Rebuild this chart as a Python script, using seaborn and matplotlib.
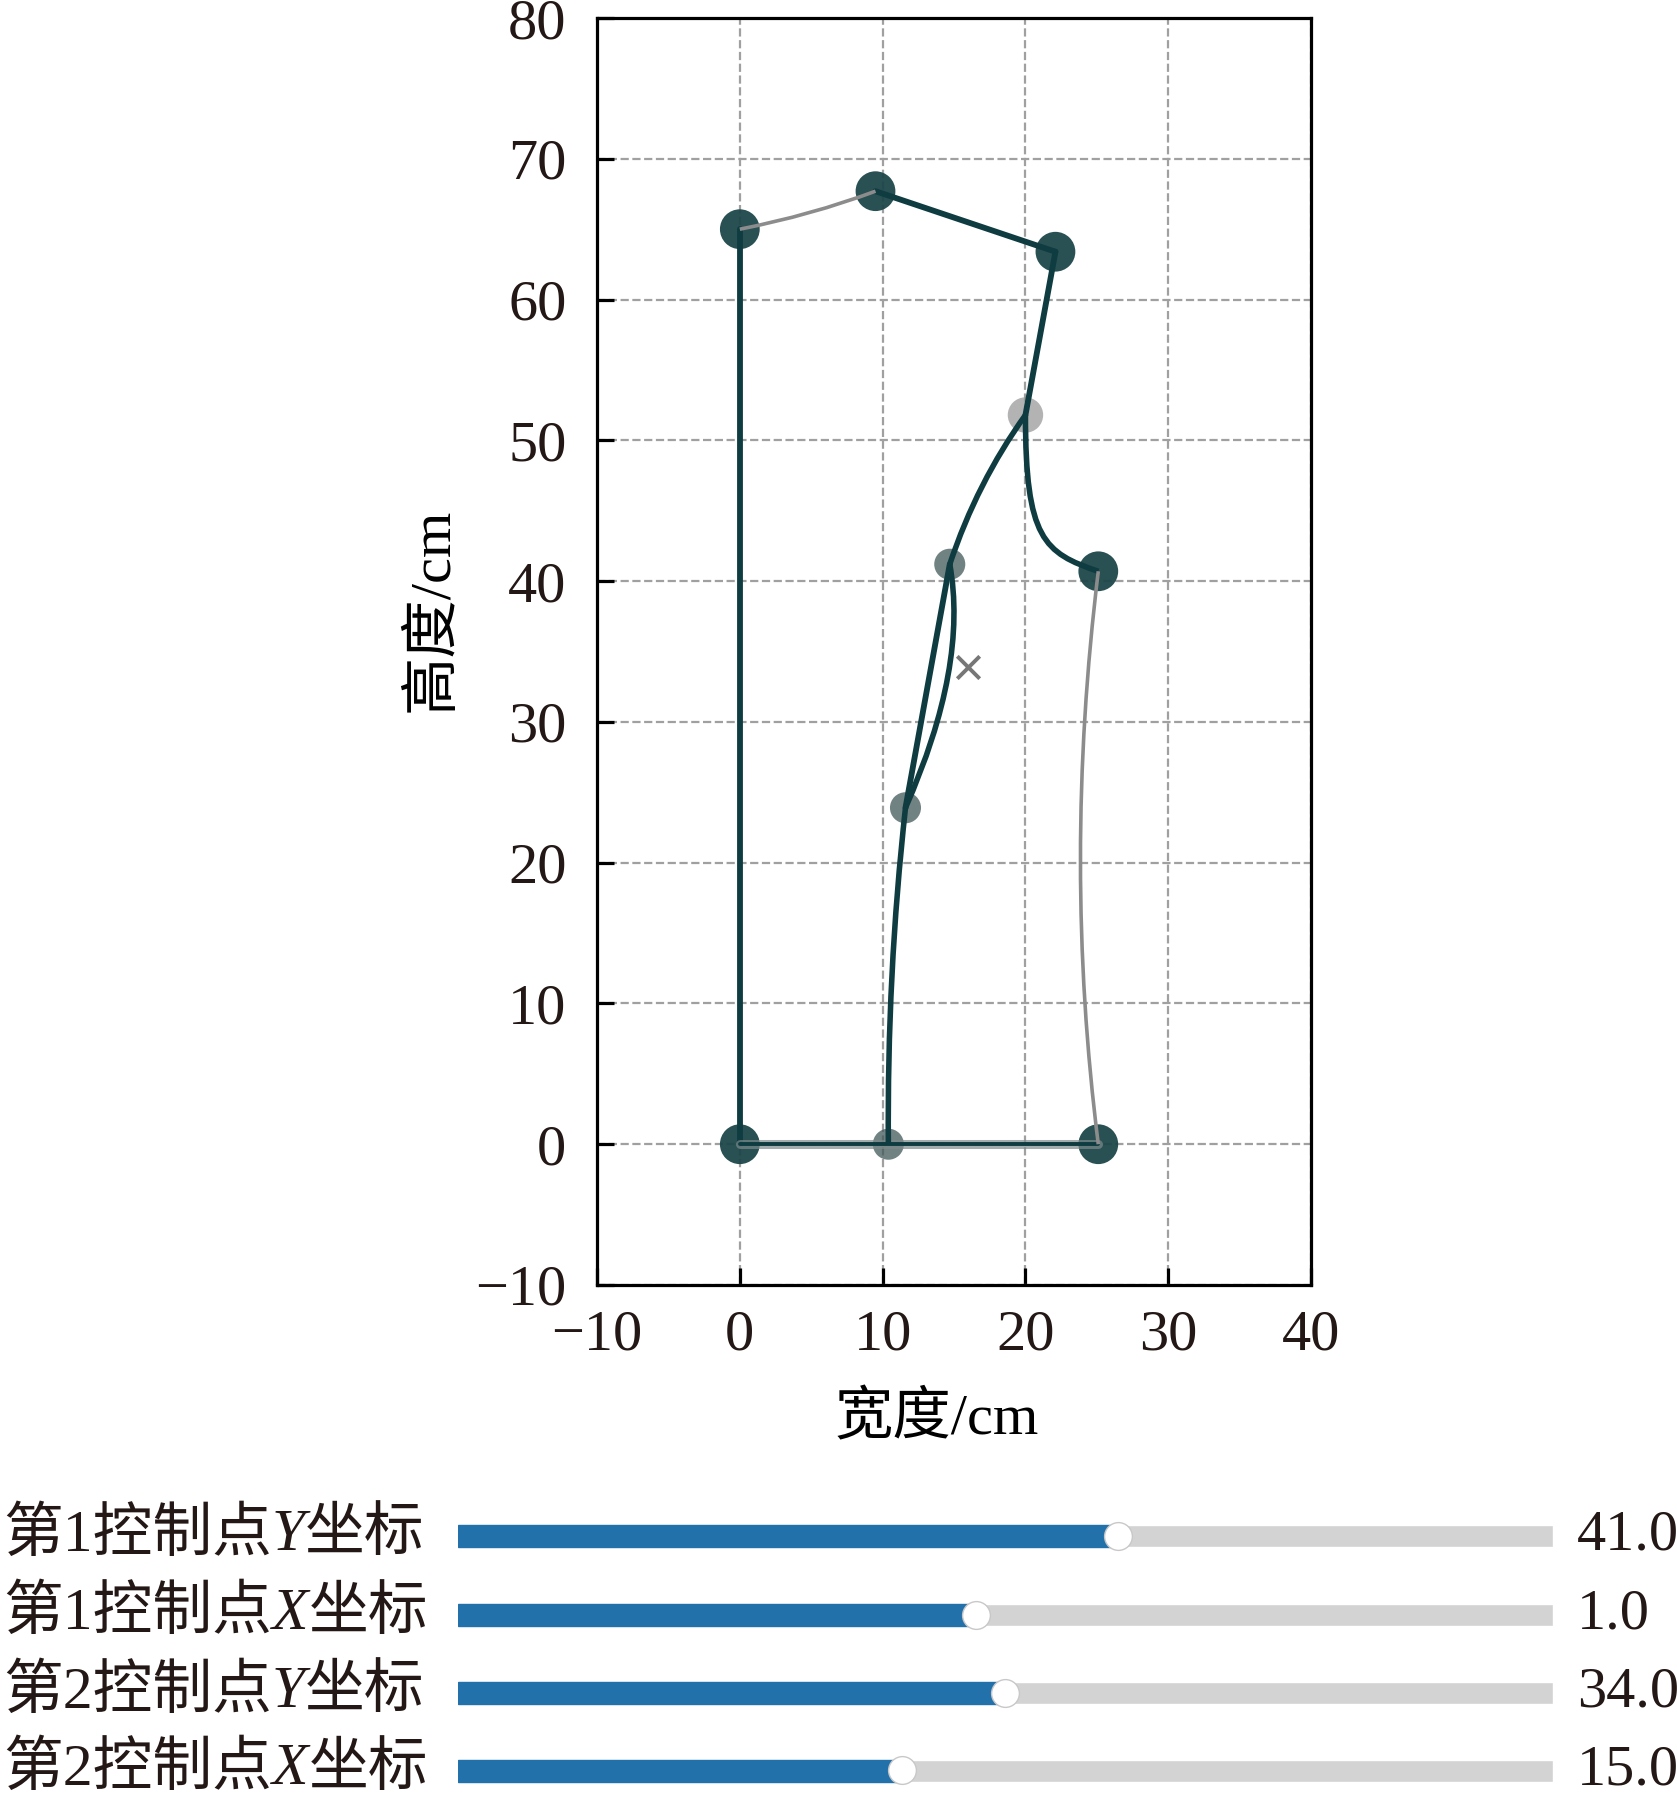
import matplotlib
matplotlib.use("Agg")
import matplotlib.pyplot as plt
from matplotlib.path import Path
from matplotlib.patches import PathPatch
from matplotlib.widgets import Slider
import pandas as pd
import seaborn as sns

# points of the outline (cm)
pt_x = [0, 9.5, 22.1, 25.1, 0, 25.1, 14.7, 11.6, 10.4, 20.0]
pt_y = [65, 67.7, 63.4, 40.7, 0, 0, 41.2, 23.9, 0, 51.8]
pt_kind = ["dark", "dark", "dark", "dark", "dark", "dark", "mid", "mid", "mid", "light"]

# control point marker
ctrl_x = [16.0]
ctrl_y = [33.9]

# straight edges (x0, y0, x1, y1)
edges = [
    (0, 0, 0, 65),
    (9.5, 67.7, 22.1, 63.4),
    (22.1, 63.4, 20.0, 51.8),
    (14.7, 41.2, 11.6, 23.9),
]
base_edge = (0, 0, 25.1, 0)

# curved edges: start, control point(s), end
dark_curves = [
    [(20.0, 51.8), (16.6, 47.0), (14.7, 41.2)],
    [(11.6, 23.9), (16.0, 34.0), (14.7, 41.2)],
    [(11.6, 23.9), (10.3, 12.0), (10.4, 0)],
    [(20.0, 51.8), (20.0, 43.0), (21.3, 42.0), (25.1, 40.7)],
]
grey_curves = [
    [(0, 65), (5.0, 66.0), (9.5, 67.7)],
    [(25.1, 40.7), (22.6, 20.0), (25.1, 0)],
]

# sliders
slider_labels = [("第1控制点", "Y", "坐标"), ("第1控制点", "X", "坐标"),
                 ("第2控制点", "Y", "坐标"), ("第2控制点", "X", "坐标")]
slider_vals = [41.0, 1.0, 34.0, 15.0]
slider_min = [0, -25, 0, 0]
slider_max = [68, 30, 68, 37]

sns.set_theme(style="white")
plt.rcParams["font.family"] = ["Liberation Serif", "Noto Sans CJK SC"]
plt.rcParams["axes.unicode_minus"] = True

DARK = "#0e3c41"
TXT = "#231815"
FS = 42

fig = plt.figure(figsize=(16.77, 18.04), dpi=100)
ax = fig.add_axes([0.356, 0.2877, 0.4258, 0.7023])

# markers
sizes = {"dark": 820, "mid": 500, "light": 650}
colors = {"dark": "#1d4649", "mid": "#42585a", "light": "#9a9a9a"}
alphas = {"dark": 0.95, "mid": 0.75, "light": 0.75}
pts = pd.DataFrame({"x": pt_x, "y": pt_y, "kind": pt_kind})
for k in ["dark", "mid", "light"]:
    sub = pts[pts["kind"] == k]
    sns.scatterplot(data=sub, x="x", y="y", s=sizes[k], color=colors[k],
                    alpha=alphas[k], edgecolor="none", ax=ax, zorder=2, legend=False)

# straight edges
seg = pd.DataFrame(
    [(i, e[0], e[1]) for i, e in enumerate(edges)] + [(i, e[2], e[3]) for i, e in enumerate(edges)],
    columns=["seg", "x", "y"])
sns.lineplot(data=seg, x="x", y="y", units="seg", estimator=None, sort=False,
             color=DARK, linewidth=4.2, ax=ax, zorder=3)
bx = [base_edge[0], base_edge[2]]
by = [base_edge[1], base_edge[3]]
sns.lineplot(x=bx, y=by, color="#7d8a8b", linewidth=6.5, alpha=0.7, ax=ax, zorder=3)
sns.lineplot(x=bx, y=by, color=DARK, linewidth=2.8, ax=ax, zorder=3)


def bezier(points):
    codes = [Path.MOVETO] + [Path.CURVE3 if len(points) == 3 else Path.CURVE4] * (len(points) - 1)
    return Path(points, codes)


for c in dark_curves:
    ax.add_patch(PathPatch(bezier(c), fill=False, edgecolor=DARK, linewidth=4.0, zorder=3))
for c in grey_curves:
    ax.add_patch(PathPatch(bezier(c), fill=False, edgecolor="#8c8c8c", linewidth=2.6, zorder=3))

sns.scatterplot(x=ctrl_x, y=ctrl_y, marker="x", s=260, color="#777777", linewidth=2.8, ax=ax, zorder=4)

ax.set_xlim(-10, 40)
ax.set_ylim(-10, 80)
ax.set_xticks(range(-10, 41, 10))
ax.set_yticks(range(-10, 81, 10))
ax.grid(True, linestyle="--", color="#a0a0a0", linewidth=1.6)
for s in ax.spines.values():
    s.set_color("black")
    s.set_linewidth(2.3)
ax.tick_params(direction="in", length=12, width=2.3, labelsize=FS, colors="black",
               left=True, bottom=True, top=False, right=False)
ax.tick_params(axis="y", pad=22)
ax.tick_params(axis="x", pad=18)
ax.set_xlabel("宽度/cm", fontsize=FS, color="black")
ax.set_ylabel("高度/cm", fontsize=FS, color="black")
ax.xaxis.set_label_coords(0.476, -0.084)
ax.yaxis.set_label_coords(-0.193, 0.533)
for t in ax.get_xticklabels() + ax.get_yticklabels():
    t.set_color(TXT)

# sliders
row_y = [1535.7, 1614.6, 1692.7, 1770.5]
renderer = fig.canvas.get_renderer()
W = 1677.0
H = 1804.0
sliders = []
for i in range(4):
    sax = fig.add_axes([458 / W, 1 - (row_y[i] + 22) / H, 1095 / W, 44 / H])
    sl = Slider(sax, "", slider_min[i], slider_max[i], valinit=slider_vals[i], valfmt="%.1f",
                color="#2271ab", track_color="#d3d3d3", initcolor="none",
                handle_style={"facecolor": "white", "edgecolor": "#c8c8c8", "size": 20})
    sl.valtext.set_fontsize(FS)
    sl.valtext.set_color(TXT)
    sl.valtext.set_position((1.022, 0.5))
    sliders.append(sl)

    # label, with the axis letter in italics
    parts = slider_labels[i]
    styles = ["normal", "italic", "normal"]
    texts = [fig.text(0, 1 - row_y[i] / H, p, fontsize=43, style=st, va="center",
                      ha="left", color=TXT) for p, st in zip(parts, styles)]
    widths = [t.get_window_extent(renderer).width for t in texts]
    x = max(3, 420 - sum(widths))
    for t, w in zip(texts, widths):
        t.set_x(x / W)
        x += w

fig.savefig("out.png", dpi=100)
